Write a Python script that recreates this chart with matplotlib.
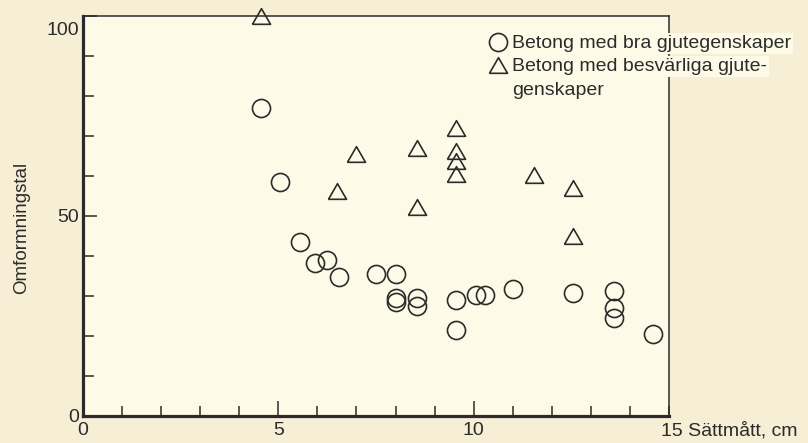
import matplotlib
matplotlib.use("Agg")
import matplotlib.pyplot as plt
import matplotlib.transforms as mtransforms

plt.rcParams["font.family"] = ["Liberation Sans", "DejaVu Sans"]

# Good workability concrete (circles)
bra_x = [4.55, 5.05, 5.55, 5.95, 6.25, 6.55, 7.5, 8.0, 8.0, 8.0, 8.55, 8.55,
         9.55, 9.55, 10.05, 10.3, 11.0, 12.55, 13.6, 13.6, 13.6, 14.6]
bra_y = [77, 58.5, 43.5, 38.3, 39, 34.8, 35.6, 35.6, 29.6, 28.4, 29.4, 27.6,
         29.1, 21.6, 30.3, 30.3, 31.8, 30.8, 31.3, 27.1, 24.6, 20.6]

# Difficult workability concrete (triangles)
besv_x = [4.55, 6.5, 7.0, 8.55, 8.55, 9.55, 9.55, 9.55, 9.55, 11.55, 12.55, 12.55]
besv_y = [100, 56.2, 65.4, 67, 52.2, 71.9, 66.2, 63.7, 60.4, 60.2, 57, 45]

legend_labels = ["Betong med bra gjutegenskaper",
                 "Betong med besvärliga gjute-\ngenskaper"]
x_ticklabels = ["0", "5", "10"]
y_ticklabels = ["0", "50", "100"]
ylabel = "Omformningstal"
xlabel = "15 Sättmått, cm"

outer_bg = "#f7eed6"
inner_bg = "#fdfbe8"
ink = "#2b2b2b"

tri = [(-1, -0.866), (1, -0.866), (0, 0.866), (-1, -0.866)]
mstyle = dict(linestyle="none", markersize=13, markerfacecolor="none",
              markeredgecolor=ink, markeredgewidth=1.2)

fig = plt.figure(figsize=(8.08, 4.43), dpi=100, facecolor=outer_bg)
ax = fig.add_axes([83 / 808, 27 / 443, 586 / 808, 400 / 443])
ax.set_facecolor(inner_bg)

ax.plot(bra_x, bra_y, marker="o", clip_on=False, zorder=4, **mstyle)
ax.plot(besv_x, besv_y, marker=tri, clip_on=False, zorder=4, **mstyle)

ax.set_xlim(0, 15)
ax.set_ylim(0, 100)

# spines
for side in ["left", "bottom"]:
    ax.spines[side].set_linewidth(2.3)
    ax.spines[side].set_color(ink)
for side in ["top", "right"]:
    ax.spines[side].set_linewidth(1.1)
    ax.spines[side].set_color(ink)

# ticks
ax.set_xticks([0, 5, 10], x_ticklabels)
ax.set_xticks(range(0, 16), minor=True)
ax.set_yticks([0, 50, 100], y_ticklabels)
ax.set_yticks(range(0, 101, 10), minor=True)
ax.tick_params(axis="x", which="major", direction="in", length=11, width=1.1,
               color=ink, labelsize=14, labelcolor=ink, pad=4)
ax.tick_params(axis="x", which="minor", direction="in", length=7, width=1.1,
               color=ink)
ax.tick_params(axis="y", which="both", direction="in", length=8, width=1.1,
               color=ink, labelsize=14, labelcolor=ink, pad=3)
ax.tick_params(axis="y", which="major", length=10)

# the "100" label sits a little below its tick in the original
lbl100 = ax.get_yticklabels()[-1]
lbl100.set_transform(lbl100.get_transform() +
                     mtransforms.ScaledTranslation(0, -9 / 72, fig.dpi_scale_trans))

ax.set_ylabel(ylabel, fontsize=13.5, color=ink)
ax.yaxis.set_label_coords(-0.09, 0.47)

ax.annotate(xlabel, xy=(15, 0), xycoords="data", xytext=(-6, -4),
            textcoords="offset points", ha="left", va="top",
            fontsize=14, color=ink, annotation_clip=False)

# legend, drawn by hand so the text can run over the right spine
def ax_pt(px, py):
    return (px - 83) / 586, (443 - 27 - py) / 400

lx, ly = ax_pt(498, 42)
ax.plot([lx], [ly], marker="o", transform=ax.transAxes, clip_on=False,
        zorder=7, **mstyle)
lx, ly = ax_pt(498, 65)
ax.plot([lx], [ly], marker=tri, transform=ax.transAxes, clip_on=False,
        zorder=7, **mstyle)

lines = [legend_labels[0]] + legend_labels[1].split("\n")
baselines = [48, 71, 95]
for line, base in zip(lines, baselines):
    tx, ty = ax_pt(512, base)
    ax.text(tx, ty, line, transform=ax.transAxes, ha="left",
            va="baseline", fontsize=14, color=ink, zorder=6,
            bbox=dict(facecolor=inner_bg, edgecolor="none", pad=1.5))

fig.savefig("out.png", dpi=100, facecolor=outer_bg)
